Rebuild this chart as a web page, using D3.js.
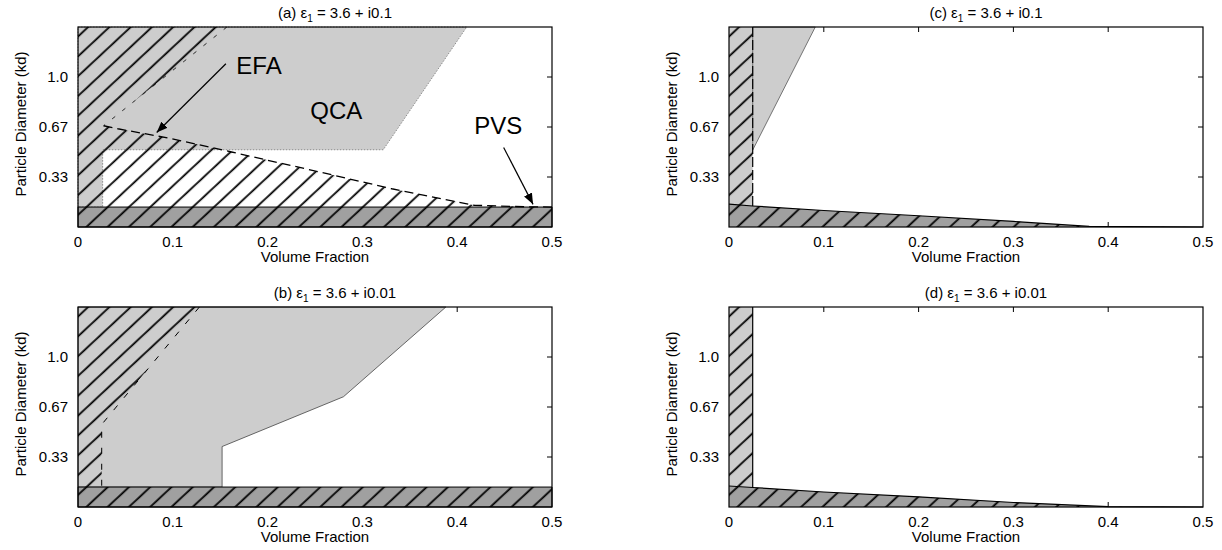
<!DOCTYPE html>
<html>
<head>
<meta charset="utf-8">
<script src="https://cdn.jsdelivr.net/npm/d3@7"></script>
<style>
  body { margin: 0; background: #fff; }
  text { font-family: "Liberation Sans", Arial, Helvetica, sans-serif; fill: #000; }
</style>
</head>
<body>
<div id="chart"></div>
<script>
// ------------------------- DATA -------------------------
// x = volume fraction, y = particle diameter (kd)
const xTicks = [0, 0.1, 0.2, 0.3, 0.4, 0.5];
const xTickLabels = ["0", "0.1", "0.2", "0.3", "0.4", "0.5"];
const yTicks = [1 / 3, 2 / 3, 1];
const yTickLabels = ["0.33", "0.67", "1.0"];
const kdMax = 4 / 3;

const panelLetters = ["a", "b", "c", "d"];
const panelEps = ["3.6 + i0.1", "3.6 + i0.01", "3.6 + i0.1", "3.6 + i0.01"];

// (a) eps = 3.6 + i0.1, left column
const qcaA = [[0, 0.133], [0, 1.333], [0.41, 1.333], [0.322, 0.515], [0.026, 0.515], [0.026, 0.133]];
const pvsA = [[0, 0], [0, 0.133], [0.5, 0.133], [0.5, 0]];
const efaCornerA = [[0.157, 1.333], [0.027, 0.675]];
const efaEdgeA = [[0.027, 0.675], [0.042, 0.655], [0.098, 0.59], [0.162, 0.5], [0.256, 0.365],
                  [0.331, 0.255], [0.418, 0.145], [0.47, 0.135], [0.5, 0.133]];

// (b) eps = 3.6 + i0.01, left column
const qcaB = [[0, 0.133], [0, 1.333], [0.388, 1.333], [0.28, 0.735], [0.152, 0.403], [0.152, 0.133]];
const pvsB = [[0, 0], [0, 0.133], [0.5, 0.133], [0.5, 0]];
const efaEdgeB = [[0.128, 1.333], [0.025, 0.55], [0.025, 0.133]];

// (c) eps = 3.6 + i0.1, right column
const stripC = [[0, 0.153], [0, 1.333], [0.025, 1.333], [0.025, 0.14]];
const qcaC = [[0.025, 0.513], [0.025, 1.333], [0.091, 1.333]];
const wedgeC = [[0, 0.153], [0.025, 0.14], [0.1, 0.11], [0.2, 0.075], [0.3, 0.037], [0.38, 0.004], [0.5, 0]];

// (d) eps = 3.6 + i0.01, right column
const stripD = [[0, 0.14], [0, 1.333], [0.025, 1.333], [0.025, 0.13]];
const wedgeD = [[0, 0.14], [0.025, 0.13], [0.1, 0.1], [0.2, 0.068], [0.3, 0.03], [0.4, 0.002], [0.5, 0]];

// region labels and arrows for (a)
const labelsA = [
  { text: "EFA", x: 0.167, y: 1.02 },
  { text: "QCA", x: 0.245, y: 0.72 },
  { text: "PVS", x: 0.418, y: 0.62 }
];
const arrowsA = [
  [[0.156, 1.088], [0.083, 0.63]],
  [[0.449, 0.53], [0.48, 0.151]]
];

// ------------------------- LAYOUT -------------------------
const W = 1222, H = 550;
const pw = 474, ph = 200;
const boxes = [
  { left: 78, top: 27 },
  { left: 78, top: 307 },
  { left: 729, top: 27 },
  { left: 729, top: 307 }
];
const light = "#cdcdcd", dark = "#a0a0a0";

let svg = d3.select("#chart")
            .append("svg")
            .attr("width", W)
            .attr("height", H);

// diagonal hatching, shared by every panel
let defs = svg.append("defs");
defs.append("pattern")
    .attr("id", "hatch")
    .attr("patternUnits", "userSpaceOnUse")
    .attr("width", 14.5)
    .attr("height", 14.5)
    .attr("patternTransform", "rotate(47)")
    .append("line")
    .attr("x1", 7).attr("y1", 0)
    .attr("x2", 7).attr("y2", 14.5)
    .attr("stroke", "#000")
    .attr("stroke-width", 1.8);

defs.append("marker")
    .attr("id", "head")
    .attr("viewBox", "0 0 10 10")
    .attr("refX", 10).attr("refY", 5)
    .attr("markerWidth", 11).attr("markerHeight", 11)
    .attr("markerUnits", "userSpaceOnUse")
    .attr("orient", "auto")
    .append("path")
    .attr("d", "M0,1 L10,5 L0,9 Z")
    .attr("fill", "#000");

// ------------------------- PANELS -------------------------
function drawPanel(i) {
  let box = boxes[i];
  let x = d3.scaleLinear().domain([0, 0.5]).range([0, pw]);
  let y = d3.scaleLinear().domain([0, kdMax]).range([ph, 0]);
  let line = d3.line().x(d => x(d[0])).y(d => y(d[1]));
  let poly = pts => line(pts) + "Z";

  let g = svg.append("g").attr("transform", "translate(" + box.left + "," + box.top + ")");

  // inward ticks on all four sides, drawn beneath the fills
  let ticks = g.append("g").attr("stroke", "#000").attr("stroke-width", 1);
  xTicks.slice(1, -1).forEach(t => {
    ticks.append("line").attr("x1", x(t)).attr("x2", x(t)).attr("y1", 0).attr("y2", 5);
    ticks.append("line").attr("x1", x(t)).attr("x2", x(t)).attr("y1", ph).attr("y2", ph - 5);
  });
  yTicks.forEach(t => {
    ticks.append("line").attr("x1", 0).attr("x2", 5).attr("y1", y(t)).attr("y2", y(t));
    ticks.append("line").attr("x1", pw).attr("x2", pw - 5).attr("y1", y(t)).attr("y2", y(t));
  });

  if (i == 0) {
    g.append("path").attr("d", poly(qcaA)).attr("fill", light)
     .attr("stroke", "#666").attr("stroke-width", 0.7).attr("stroke-dasharray", "1.5,1.5");
    g.append("path").attr("d", poly(pvsA)).attr("fill", dark)
     .attr("stroke", "#000").attr("stroke-width", 1);
    let efa = [[0, 0], [0, kdMax]].concat(efaCornerA, efaEdgeA.slice(1), [[0.5, 0]]);
    g.append("path").attr("d", poly(efa)).attr("fill", "url(#hatch)");
    g.append("path").attr("d", line(efaEdgeA)).attr("fill", "none")
     .attr("stroke", "#000").attr("stroke-width", 1.3).attr("stroke-dasharray", "9,5");
    g.append("path").attr("d", line(efaCornerA)).attr("fill", "none")
     .attr("stroke", "#000").attr("stroke-width", 0.8).attr("stroke-dasharray", "4,9");

    labelsA.forEach(l => {
      g.append("text").attr("x", x(l.x)).attr("y", y(l.y))
       .attr("font-size", 24).text(l.text);
    });
    arrowsA.forEach(a => {
      g.append("line")
       .attr("x1", x(a[0][0])).attr("y1", y(a[0][1]))
       .attr("x2", x(a[1][0])).attr("y2", y(a[1][1]))
       .attr("stroke", "#000").attr("stroke-width", 1.2)
       .attr("marker-end", "url(#head)");
    });
  } else if (i == 1) {
    g.append("path").attr("d", poly(qcaB)).attr("fill", light)
     .attr("stroke", "#444").attr("stroke-width", 0.8);
    g.append("path").attr("d", poly(pvsB)).attr("fill", dark)
     .attr("stroke", "#000").attr("stroke-width", 1);
    let efa = [[0, 0], [0, kdMax]].concat(efaEdgeB, [[0.5, 0.133], [0.5, 0]]);
    g.append("path").attr("d", poly(efa)).attr("fill", "url(#hatch)");
    g.append("path").attr("d", line(efaEdgeB)).attr("fill", "none")
     .attr("stroke", "#000").attr("stroke-width", 1).attr("stroke-dasharray", "6,10");
  } else {
    let strip = i == 2 ? stripC : stripD;
    let wedge = i == 2 ? wedgeC : wedgeD;
    g.append("path").attr("d", poly(strip)).attr("fill", light);
    if (i == 2) {
      g.append("path").attr("d", poly(qcaC)).attr("fill", light)
       .attr("stroke", "#444").attr("stroke-width", 0.7);
    }
    g.append("path").attr("d", poly([[0, 0]].concat(wedge))).attr("fill", dark);
    let hatchArea = [[0, 0], [0, kdMax], [0.025, kdMax]].concat(wedge.slice(1));
    g.append("path").attr("d", poly(hatchArea)).attr("fill", "url(#hatch)");
    g.append("path").attr("d", line(wedge)).attr("fill", "none")
     .attr("stroke", "#000").attr("stroke-width", 1.2);
    g.append("line")
     .attr("x1", x(0.025)).attr("x2", x(0.025))
     .attr("y1", y(kdMax)).attr("y2", y(wedge[1][1]))
     .attr("stroke", "#000").attr("stroke-width", 1.2)
     .attr("stroke-dasharray", i == 2 ? "10,3" : null);
  }

  // frame
  g.append("rect").attr("width", pw).attr("height", ph)
   .attr("fill", "none").attr("stroke", "#000").attr("stroke-width", 1.2);

  // tick labels
  g.selectAll(".xl").data(xTicks).enter().append("text")
   .attr("x", d => x(d)).attr("y", ph + 20)
   .attr("text-anchor", "middle").attr("font-size", 15)
   .text((d, k) => xTickLabels[k]);
  g.selectAll(".yl").data(yTicks).enter().append("text")
   .attr("x", -10).attr("y", d => y(d) + 5)
   .attr("text-anchor", "end").attr("font-size", 15)
   .text((d, k) => yTickLabels[k]);

  // axis titles
  g.append("text").attr("x", pw / 2).attr("y", ph + 35)
   .attr("text-anchor", "middle").attr("font-size", 15)
   .text("Volume Fraction");
  g.append("text")
   .attr("transform", "translate(-52," + (ph / 2 - 3) + ") rotate(-90)")
   .attr("text-anchor", "middle").attr("font-size", 15)
   .text("Particle Diameter (kd)");

  // panel title
  let t = g.append("text").attr("x", pw / 2 + 20).attr("y", -9)
           .attr("text-anchor", "middle").attr("font-size", 15);
  t.append("tspan").text("(" + panelLetters[i] + ") \u03b5");
  t.append("tspan").attr("font-size", 10).attr("dy", 4).text("1");
  t.append("tspan").attr("dy", -4).text(" = " + panelEps[i]);
}

[0, 1, 2, 3].forEach(drawPanel);
</script>
</body>
</html>
